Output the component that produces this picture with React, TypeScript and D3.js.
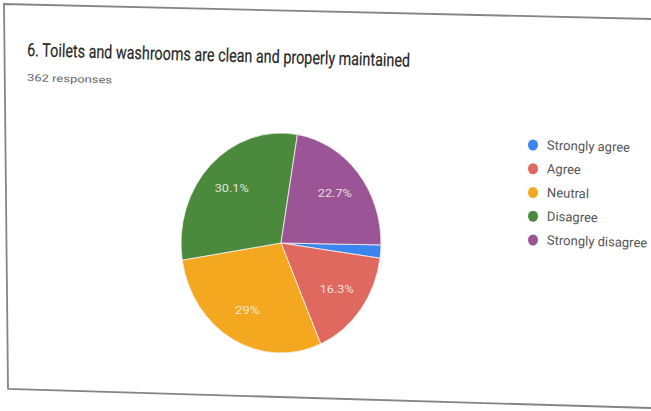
import React from "react";
import * as d3 from "d3";

const categories = ["Strongly agree", "Agree", "Neutral", "Disagree", "Strongly disagree"];
const counts = [7, 59, 105, 109, 82];
const percentLabels = ["1.9%", "16.3%", "29%", "30.1%", "22.7%"];
const colors = ["#3b86ee", "#e0695f", "#f3a81f", "#4b8a3c", "#9b5597"];
const title = "6. Toilets and washrooms are clean and properly maintained";
const subtitle = "362 responses";

const W = 651;
const H = 411;

export default function App() {
  const cx = 281;
  const cy = 243;
  const rx = 100;
  const ry = 110;
  const start = (91 * Math.PI) / 180;
  const pie = d3
    .pie<number>()
    .sort(null)
    .value((d) => d)
    .startAngle(start)
    .endAngle(start + 2 * Math.PI);
  const arcs = pie(counts);
  const arc = d3.arc<d3.PieArcDatum<number>>().innerRadius(0).outerRadius(rx);
  const labelArc = d3
    .arc<d3.PieArcDatum<number>>()
    .innerRadius(rx * 0.7)
    .outerRadius(rx * 0.7);
  const sy = ry / rx;

  const legendY = d3.scalePoint<string>().domain(categories).range([145, 240]);
  const rot = 1.6;

  return (
    <svg
      width={W}
      height={H}
      style={{ position: "absolute", left: 0, top: 0, background: "#ffffff" }}
    >
      <path
        d="M651,19 L4,4 L8,389 L651,408"
        fill="none"
        stroke="#858585"
        strokeWidth={1.8}
      />
      <text
        x={27}
        y={56}
        transform={`rotate(${rot},27,56)`}
        fontFamily="Roboto, Arial, sans-serif"
        fontSize={18.5}
        fill="#262626"
        stroke="#262626"
        strokeWidth={0.2}
        textLength={383}
        lengthAdjust="spacingAndGlyphs"
      >
        {title}
      </text>
      <text
        x={27}
        y={81}
        transform={`rotate(${rot},27,81)`}
        fontFamily="Roboto, Arial, sans-serif"
        fontSize={10}
        fill="#666"
        textLength={85}
        lengthAdjust="spacingAndGlyphs"
      >
        {subtitle}
      </text>
      <g transform={`translate(${cx},${cy}) scale(1,${sy})`}>
        {arcs.map((a, i) => (
          <path
            key={categories[i]}
            d={arc(a) || ""}
            fill={colors[i]}
            stroke="#f4eeee"
            strokeWidth={0.8}
          />
        ))}
      </g>
      {arcs.map((a, i) => {
        if (counts[i] / d3.sum(counts) < 0.05) return null;
        const [lx, ly] = labelArc.centroid(a);
        const x = cx + lx;
        const y = cy + ly * sy;
        return (
          <text
            key={"l" + i}
            x={x}
            y={y}
            dy="0.35em"
            textAnchor="middle"
            fontFamily="Roboto, Arial, sans-serif"
            fontSize={10}
            fill="#f5f0ea"
            fillOpacity={0.9}
            textLength={percentLabels[i].length > 3 ? 34 : 25}
            lengthAdjust="spacingAndGlyphs"
          >
            {percentLabels[i]}
          </text>
        );
      })}
      {categories.map((c, i) => {
        const y = legendY(c) as number;
        return (
          <g key={c}>
            <ellipse cx={533} cy={y} rx={5} ry={5.5} fill={colors[i]} />
            <text
              x={547}
              y={y}
              dy="0.35em"
              transform={`rotate(${rot},547,${y})`}
              fontFamily="Roboto, Arial, sans-serif"
              fontSize={13}
              fill="#555"
            >
              {c}
            </text>
          </g>
        );
      })}
    </svg>
  );
}
